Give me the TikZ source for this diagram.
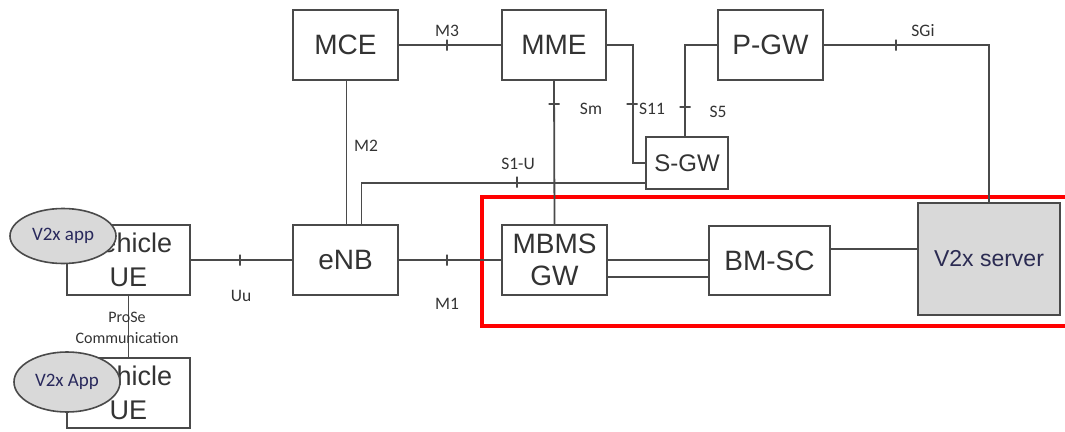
\documentclass[tikz,border=0pt]{standalone}
\usepackage{fontspec}
\setmainfont{Liberation Sans}
\newfontfamily\labfont{Carlito}
\usetikzlibrary{shapes.geometric}
\definecolor{linec}{HTML}{4A4A4A}
\definecolor{txtc}{HTML}{333333}
\definecolor{grayfill}{HTML}{D9D9D9}
\definecolor{redc}{HTML}{FF0000}
\tikzset{
  box/.style={draw=linec, line width=1.8pt, fill=white, inner sep=0pt, align=center, text=txtc,
    font=\fontsize{28}{32}\selectfont},
  conn/.style={draw=linec, line width=1.8pt},
  lab/.style={font=\labfont\fontsize{17.5}{20}\selectfont, text=txtc, inner sep=0pt},
  vtick/.style={draw=linec, line width=1.8pt, inner sep=0pt, minimum width=0pt, minimum height=11pt, shape=rectangle},
  htick/.style={draw=linec, line width=1.8pt, inner sep=0pt, minimum width=11pt, minimum height=0pt, shape=rectangle},
  app/.style={ellipse, draw=linec, line width=1.6pt, fill=grayfill, inner sep=0pt,
    font=\labfont\fontsize{19}{21}\selectfont, text=txtc!80!blue},
}
\begin{document}
\begin{tikzpicture}[x=1pt,y=-1pt]
\useasboundingbox (0,0) rectangle (1065,431);
% nodes
\node[box, minimum width=105pt, minimum height=70pt] (MCE) at (345.5,45) {MCE};
\node[box, minimum width=104pt, minimum height=70pt] (MME) at (554,45) {MME};
\node[box, minimum width=105pt, minimum height=70pt] (PGW) at (770.5,45) {P-GW};
\node[box, minimum width=82pt, minimum height=52pt, font=\fontsize{24}{28}\selectfont] (SGW) at (687,163) {S-GW};
\node[box, minimum width=105pt, minimum height=70pt] (ENB) at (345.5,260) {eNB};
\node[box, minimum width=105pt, minimum height=70pt, font=\fontsize{28}{32}\selectfont] (MBMS) at (554.5,260) {MBMS\\GW};
\node[box, minimum width=121pt, minimum height=69pt] (BMSC) at (769.5,260.5) {BM-SC};
\node[box, fill=grayfill, minimum width=142pt, minimum height=112pt, font=\fontsize{23}{26}\selectfont, text=txtc!85!blue] (V2X) at (989,259) {V2x server};
\node[box, minimum width=123pt, minimum height=70pt, font=\fontsize{27}{34}\selectfont] (UE1) at (128.5,260) {Vehicle\\UE};
\node[box, minimum width=123pt, minimum height=70pt, font=\fontsize{27}{34}\selectfont] (UE2) at (128.5,393) {Vehicle\\UE};
\node[app, minimum width=106pt, minimum height=55pt] (APP1) at (63,236) {V2x app};
\node[app, minimum width=106pt, minimum height=60pt] (APP2) at (67,382) {V2x App};
% red frame
\draw[redc, line width=4pt] (1080,197) -- (482,197) -- (482,326) -- (1080,326);
% connectors
\draw[conn] (MCE.east) -- (MME.west);
\draw[conn] (MME.east) -- ++(26,0) |- (SGW.west);
\draw[conn] ([xshift=-2pt]SGW.north) |- (PGW.west);
\draw[conn] (PGW.east) -| (V2X.north);
\draw[conn] (MME.south) -- (MBMS.north);
\draw[conn] ([xshift=1pt]MCE.south) -- ([xshift=1pt]ENB.north);
\draw[conn] ([yshift=7pt]SGW.south west) -| ([xshift=16pt]ENB.north);
\draw[conn] (ENB.east) -- (MBMS.west);
\draw[conn] (MBMS.east) -- (BMSC.west |- MBMS.east);
\draw[conn] ([yshift=-17pt]MBMS.east) coordinate (m2a) -- (BMSC.west |- m2a);
\draw[conn] ([yshift=11.5pt]BMSC.east) coordinate (b2a) -- (V2X.west |- b2a);
\draw[conn] (UE1.east) -- (ENB.west);
\draw[conn] (UE1.south) -- (UE2.north);
% ticks
\node[vtick] (tM3) at (447,45) {};
\node[htick] (tS11) at (632,104) {};
\node[htick] (tS5) at (685,107) {};
\node[vtick] (tSGi) at (896,45) {};
\node[htick] (tSm) at (554,104) {};
\node[vtick] (tS1U) at (517,182) {};
\node[vtick] (tM1) at (447,260) {};
\node[vtick] (tUu) at (240,260) {};
% labels
\node[lab] (lM3) at (447,31) {M3};
\node[lab] (lS11) at (652,109) {S11};
\node[lab] (lS5) at (718,112) {S5};
\node[lab] (lSGi) at (923,31) {SGi};
\node[lab] (lSm) at (591,109) {Sm};
\node[lab] (lM2) at (366,146) {M2};
\node[lab] (lS1U) at (518,164) {S1-U};
\node[lab] (lM1) at (447,304) {M1};
\node[lab] (lUu) at (241,296) {Uu};
\node[lab, align=center, font=\labfont\fontsize{16}{21}\selectfont] (lProSe) at (127,328) {ProSe\\Communication};
\end{tikzpicture}
\end{document}
